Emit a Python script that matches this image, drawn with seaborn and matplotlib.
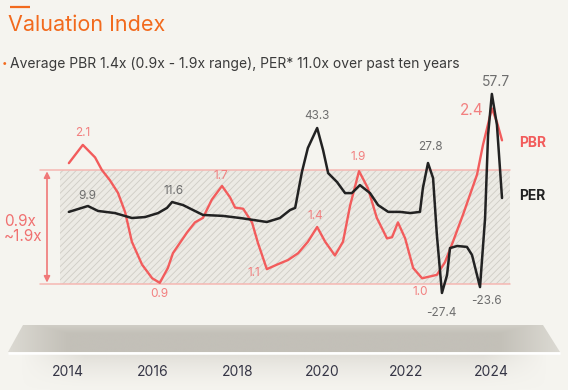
import numpy as np
import matplotlib
matplotlib.use("Agg")
import matplotlib.pyplot as plt
import seaborn as sns
from matplotlib.patches import Polygon, Rectangle
from matplotlib import transforms as mtransforms

# --- data (quarter-ish sampling of the curves) ---
pbr_years = [2014.02, 2014.35, 2014.64, 2014.80, 2014.99, 2015.18, 2015.35, 2015.51, 2015.75, 2015.99,
             2016.17, 2016.36, 2016.48, 2016.81, 2017.00, 2017.19, 2017.40, 2017.64, 2017.83, 2017.95,
             2018.14, 2018.35, 2018.49, 2018.70, 2018.94, 2019.20, 2019.44, 2019.67, 2019.89, 2020.08,
             2020.31, 2020.50, 2020.67, 2020.88, 2021.09, 2021.30, 2021.54, 2021.66, 2021.80, 2021.97,
             2022.16, 2022.37, 2022.72, 2022.91, 2023.10, 2023.34, 2023.67, 2023.81, 2024.02, 2024.14,
             2024.26]
pbr = [1.96, 2.12, 2.01, 1.90, 1.81, 1.70, 1.53, 1.27, 1.07, 0.95,
       0.91, 1.04, 1.17, 1.35, 1.44, 1.48, 1.64, 1.76, 1.66, 1.57,
       1.56, 1.44, 1.26, 1.03, 1.07, 1.11, 1.17, 1.27, 1.40, 1.27,
       1.15, 1.27, 1.59, 1.89, 1.74, 1.48, 1.30, 1.31, 1.44, 1.30,
       1.04, 0.95, 0.98, 1.09, 1.27, 1.51, 1.86, 2.12, 2.44, 2.32,
       2.16]

per_years = [2014.02, 2014.47, 2014.71, 2015.11, 2015.51, 2015.82, 2016.13, 2016.34, 2016.46, 2016.72,
             2017.19, 2017.66, 2018.07, 2018.37, 2018.70, 2019.01, 2019.25, 2019.37, 2019.53, 2019.67,
             2019.89, 2020.03, 2020.15, 2020.36, 2020.55, 2020.71, 2020.90, 2021.14, 2021.33, 2021.57,
             2021.85, 2022.09, 2022.32, 2022.39, 2022.51, 2022.63, 2022.72, 2022.84, 2022.96, 2023.03,
             2023.20, 2023.43, 2023.55, 2023.74, 2023.86, 2023.93, 2024.02, 2024.14, 2024.26]
per = [7.6, 10.1, 8.0, 7.1, 5.0, 5.4, 7.1, 9.3, 11.8, 10.5,
       6.3, 5.9, 5.0, 4.2, 3.3, 5.0, 8.4, 9.3, 24.6, 34.8,
       43.3, 33.9, 24.1, 20.3, 15.6, 15.6, 19.0, 15.6, 10.5, 7.6,
       7.6, 7.1, 7.6, 17.8, 28.4, 22.0, -2.2, -26.9, -19.3, -7.8,
       -6.9, -7.3, -10.7, -24.4, 5.0, 40.3, 57.8, 44.6, 13.5]

pbr_band = (0.9, 1.9)
tick_years = [2014, 2016, 2018, 2020, 2022, 2024]

pbr_note_years = [2014.35, 2016.17, 2017.64, 2018.70, 2019.89, 2020.88, 2022.37, 2024.02]
pbr_note_text = ["2.1", "0.9", "1.7", "1.1", "1.4", "1.9", "1.0", "2.4"]
per_note_years = [2014.47, 2016.46, 2019.89, 2022.51, 2022.84, 2023.74, 2024.02]
per_note_text = ["9.9", "11.6", "43.3", "27.8", "-27.4", "-23.6", "57.7"]

title = "Valuation Index"
subtitle = "Average PBR 1.4x (0.9x - 1.9x range), PER* 11.0x over past ten years"

# --- colours ---
BG = "#F5F4EF"
ORANGE = "#F26A1D"
RED = "#F25C5C"
RED_TXT = "#F28080"
BAND_LINE = "#F5B7B2"
DARK = "#222222"
GREY_TXT = "#6E6E6E"

sns.set_theme(style="white")
plt.rcParams['font.family'] = ['Inter', 'DejaVu Sans']
plt.rcParams['hatch.linewidth'] = 0.6

W, H = 568, 390
fig = plt.figure(figsize=(W / 100, H / 100), dpi=100, facecolor=BG)

# background axes in pixel coordinates for decoration
bg = fig.add_axes([0, 0, 1, 1])
bg.set_xlim(0, W)
bg.set_ylim(H, 0)
bg.axis('off')

# main axes: years vs PBR, twin for PER
XLIM = (2012.392, 2025.820)
ax = fig.add_axes([0, 0, 1, 1])
ax2 = ax.twinx()

px_y = mtransforms.blended_transform_factory(bg.transData, ax.transData)
yr_px = mtransforms.blended_transform_factory(ax.transData, bg.transData)

# title block
bg.plot([10, 30], [7, 7], color=ORANGE, lw=1.6, solid_capstyle='butt')
bg.text(8, 25, title, color=ORANGE, fontsize=15.5, va='center', ha='left')
bg.text(2, 63, "•", color=ORANGE, fontsize=7, va='center', ha='left')
bg.text(10, 64, subtitle, color="#3A3A3A", fontsize=10, va='center', ha='left')

# hatched band
band = Rectangle((60, pbr_band[0]), 450, pbr_band[1] - pbr_band[0], transform=px_y,
                 facecolor="#ECEAE4", edgecolor="#CFCCC5", hatch="/////", lw=0, zorder=1)
ax.add_patch(band)
for v in pbr_band:
    ax.plot([40, 510], [v, v], transform=px_y, color=BAND_LINE, lw=1.1, zorder=2)
ax.annotate("", xy=(47, pbr_band[1]), xytext=(47, pbr_band[0]), xycoords=px_y, textcoords=px_y,
            arrowprops=dict(arrowstyle="<|-|>", color="#F07878", lw=1.2,
                            mutation_scale=9, shrinkA=1, shrinkB=1), zorder=3)
bg.text(4, 229, "0.9x\n~1.9x", color="#F07070", fontsize=11, va='center', ha='left', linespacing=1.05)

# lines
sns.lineplot(x=pbr_years, y=pbr, ax=ax, color=RED, lw=1.7, zorder=4,
             solid_joinstyle='round', solid_capstyle='round')
sns.lineplot(x=per_years, y=per, ax=ax2, color=DARK, lw=1.8, zorder=5,
             solid_joinstyle='round', solid_capstyle='round')
for a in (ax, ax2):
    a.axis('off')
    a.set_xlim(*XLIM)
ax.set_ylim(-0.030, 3.391)
ax2.set_ylim(-68.19, 97.77)


def note(axis, years, vals, yr, text, dx, dy, color, size):
    v = np.interp(yr, years, vals)
    axis.annotate(text, (yr, v), xytext=(dx * 0.72, dy * 0.72), textcoords='offset points',
                  ha='center', va='center', color=color, fontsize=size, zorder=6)


pbr_offsets = [(0, 12), (0, -11), (-1, 10), (-13, -4), (-2, 11), (-1, 14), (-2, -14), (-20, -2)]
for yr, t, (dx, dy) in zip(pbr_note_years, pbr_note_text, pbr_offsets):
    note(ax, pbr_years, pbr, yr, t, dx, dy, RED_TXT, 11 if t == "2.4" else 8.5)

per_offsets = [(-1, 10), (1, 11), (0, 12), (2, 16), (-1, -20), (6, -14), (4, 12)]
for yr, t, (dx, dy) in zip(per_note_years, per_note_text, per_offsets):
    note(ax2, per_years, per, yr, t, dx, dy, GREY_TXT, 10 if t == "57.7" else 8.5)

bg.text(519, 143, "PBR", color=RED, fontsize=10, fontweight='bold', va='center', ha='left')
bg.text(519, 196, "PER", color=DARK, fontsize=10, fontweight='bold', va='center', ha='left')

# platform with gradient
nx, ny = 560, 30
xs = np.linspace(8, 560, nx)
ys = np.linspace(0, 1, ny)
edge = np.clip(1 - np.minimum(xs - 8, 560 - xs) / 60, 0, 1)[None, :]
top = np.clip(1 - ys / 0.3, 0, 1)[:, None] * 0.5
w = np.maximum(edge, top)
dark = np.array(matplotlib.colors.to_rgb("#C3C0B8"))
light = np.array(matplotlib.colors.to_rgb("#DCDAD3"))
img = dark[None, None, :] * (1 - w[..., None]) + light[None, None, :] * w[..., None]
im = bg.imshow(img, extent=(8, 560, 352, 325), aspect='auto', zorder=1, interpolation='bilinear')
poly = Polygon([(23, 325), (543, 325), (560, 352), (8, 352)], closed=True, transform=bg.transData)
im.set_clip_path(poly)

# soft shadow below the platform
sh_y = np.linspace(0, 1, 40)
sh_x = np.linspace(0, 1, 200)
fade = (1 - sh_y)[:, None] ** 1.5 * np.clip(np.minimum(sh_x, 1 - sh_x) / 0.12, 0, 1)[None, :]
shadow = np.zeros((40, 200, 4))
shadow[..., :3] = matplotlib.colors.to_rgb("#D8D5CE")
shadow[..., 3] = fade * 0.7
bg.imshow(shadow, extent=(20, 548, 392, 353), aspect='auto', zorder=1, interpolation='bilinear')
bg.plot([8, 560], [352.5, 352.5], color="white", lw=1.8, zorder=2, solid_capstyle='butt')
bg.set_xlim(0, W)
bg.set_ylim(H, 0)

for yr in tick_years:
    ax.text(yr, 372, str(yr), transform=yr_px, color="#363646", fontsize=10,
            ha='center', va='center', zorder=6)

fig.savefig("out.png", dpi=100, facecolor=BG)
